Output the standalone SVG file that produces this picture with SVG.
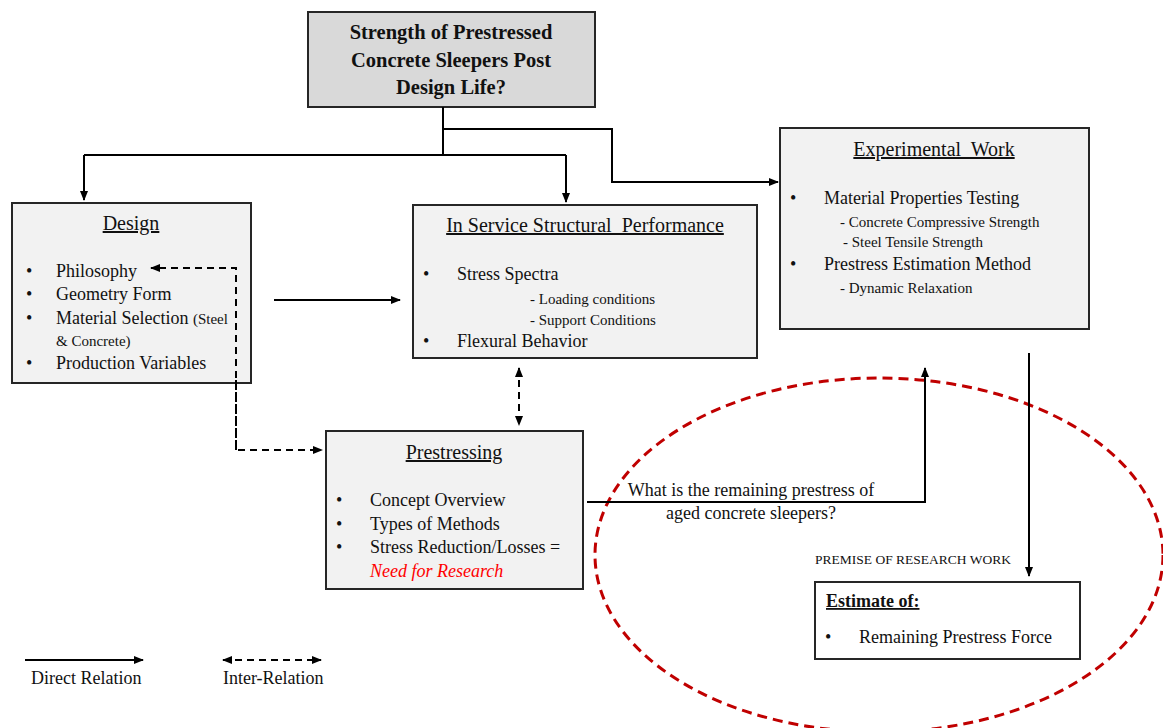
<svg xmlns="http://www.w3.org/2000/svg" width="1163" height="728" viewBox="0 0 1163 728">
<defs>
<style>
.box{fill:#f2f2f2;stroke:#262626;stroke-width:2}
.t{font-family:"Liberation Serif","Times New Roman",serif;fill:#111}
.m{font-size:18px}
.s{font-size:15px}
.h{font-size:20px;text-decoration:underline}
.ln{fill:none;stroke:#000;stroke-width:2}
.ds{fill:none;stroke:#000;stroke-width:2;stroke-dasharray:7,5}
</style>
<marker id="ah" viewBox="0 0 10 10" refX="9" refY="5" markerWidth="10" markerHeight="10" markerUnits="userSpaceOnUse" orient="auto-start-reverse">
<path d="M0,1 L10,5 L0,9 Z" fill="#000"/>
</marker>
</defs>
<rect width="1163" height="728" fill="#fff"/>

<g id="question">
<rect x="308" y="12" width="287" height="95" fill="#d9d9d9" stroke="#262626" stroke-width="2"/>
<text class="t" x="451" y="39" font-size="20.5" font-weight="bold" text-anchor="middle">Strength of Prestressed</text>
<text class="t" x="451" y="67" font-size="20.5" font-weight="bold" text-anchor="middle">Concrete Sleepers Post</text>
<text class="t" x="451" y="94" font-size="20.5" font-weight="bold" text-anchor="middle">Design Life?</text>
</g>

<g id="design">
<rect class="box" x="12" y="203" width="239" height="180"/>
<text class="t h" x="131" y="230" text-anchor="middle">Design</text>
<text class="t m" x="26" y="277">•</text><text class="t m" x="56" y="277">Philosophy</text>
<text class="t m" x="26" y="300">•</text><text class="t m" x="56" y="300">Geometry Form</text>
<text class="t m" x="26" y="324">•</text><text class="t m" x="56" y="324">Material Selection <tspan font-size="15">(Steel</tspan></text>
<text class="t" x="56" y="346" font-size="15">&amp; Concrete)</text>
<text class="t m" x="26" y="369">•</text><text class="t m" x="56" y="369">Production Variables</text>
</g>

<g id="inservice">
<rect class="box" x="413" y="205" width="344" height="153"/>
<text class="t h" x="585" y="232" text-anchor="middle" xml:space="preserve">In Service Structural  Performance</text>
<text class="t m" x="423" y="280">•</text><text class="t m" x="457" y="280">Stress Spectra</text>
<text class="t s" x="530" y="304">- Loading conditions</text>
<text class="t s" x="530" y="325">- Support Conditions</text>
<text class="t m" x="423" y="347">•</text><text class="t m" x="457" y="347">Flexural Behavior</text>
</g>

<g id="experimental">
<rect class="box" x="780" y="128" width="309" height="201"/>
<text class="t h" x="934" y="156" text-anchor="middle" xml:space="preserve">Experimental  Work</text>
<text class="t m" x="790" y="204">•</text><text class="t m" x="824" y="204">Material Properties Testing</text>
<text class="t s" x="840" y="227">- Concrete Compressive Strength</text>
<text class="t s" x="843" y="247">- Steel Tensile Strength</text>
<text class="t m" x="790" y="270">•</text><text class="t m" x="824" y="270">Prestress Estimation Method</text>
<text class="t s" x="840" y="293">- Dynamic Relaxation</text>
</g>

<g id="prestressing">
<rect class="box" x="326" y="431" width="257" height="158"/>
<text class="t h" x="454" y="459" text-anchor="middle">Prestressing</text>
<text class="t m" x="336" y="506">•</text><text class="t m" x="370" y="506">Concept Overview</text>
<text class="t m" x="336" y="530">•</text><text class="t m" x="370" y="530">Types of Methods</text>
<text class="t m" x="336" y="553">•</text><text class="t m" x="370" y="553">Stress Reduction/Losses =</text>
<text class="t m" x="370" y="577" font-style="italic" style="fill:#ff0000">Need for Research</text>
</g>

<g id="premise">
<ellipse cx="879" cy="555" rx="284" ry="177" fill="none" stroke="#c00000" stroke-width="3" stroke-dasharray="10,6"/>
<text class="t" x="815" y="564" font-size="13.5">PREMISE OF RESEARCH WORK</text>
</g>

<g id="estimate">
<rect x="815" y="582" width="265" height="77" fill="#fff" stroke="#262626" stroke-width="2"/>
<text class="t" x="826" y="607" font-size="18" font-weight="bold" text-decoration="underline">Estimate of:</text>
<text class="t m" x="825" y="643">•</text><text class="t m" x="859" y="643">Remaining Prestress Force</text>
</g>

<g id="connectors">
<path class="ln" d="M443,107 V155"/>
<path class="ln" d="M84,155 H566"/>
<path class="ln" d="M84,155 V200" marker-end="url(#ah)"/>
<path class="ln" d="M566,155 V202" marker-end="url(#ah)"/>
<path class="ln" d="M443,129 H612 V182 H778" marker-end="url(#ah)"/>
<path class="ln" d="M274,300 H400" marker-end="url(#ah)"/>
<path class="ds" d="M236,450 V268 H151" marker-end="url(#ah)"/>
<path class="ds" d="M236,380 V450 H322" marker-end="url(#ah)"/>
<path class="ds" d="M519,368 V425" marker-start="url(#ah)" marker-end="url(#ah)"/>
<path class="ln" d="M587,502 H925 V368" marker-end="url(#ah)"/>
<path class="ln" d="M1029,353 V576" marker-end="url(#ah)"/>
<text class="t m" x="751" y="496" text-anchor="middle">What is the remaining prestress of</text>
<text class="t m" x="751" y="519" text-anchor="middle">aged concrete sleepers?</text>
</g>

<g id="legend">
<path class="ln" d="M25,660 H143" marker-end="url(#ah)"/>
<text class="t m" x="31" y="684">Direct Relation</text>
<path class="ds" d="M223,660 H321" marker-start="url(#ah)" marker-end="url(#ah)"/>
<text class="t m" x="223" y="684">Inter-Relation</text>
</g>
</svg>
